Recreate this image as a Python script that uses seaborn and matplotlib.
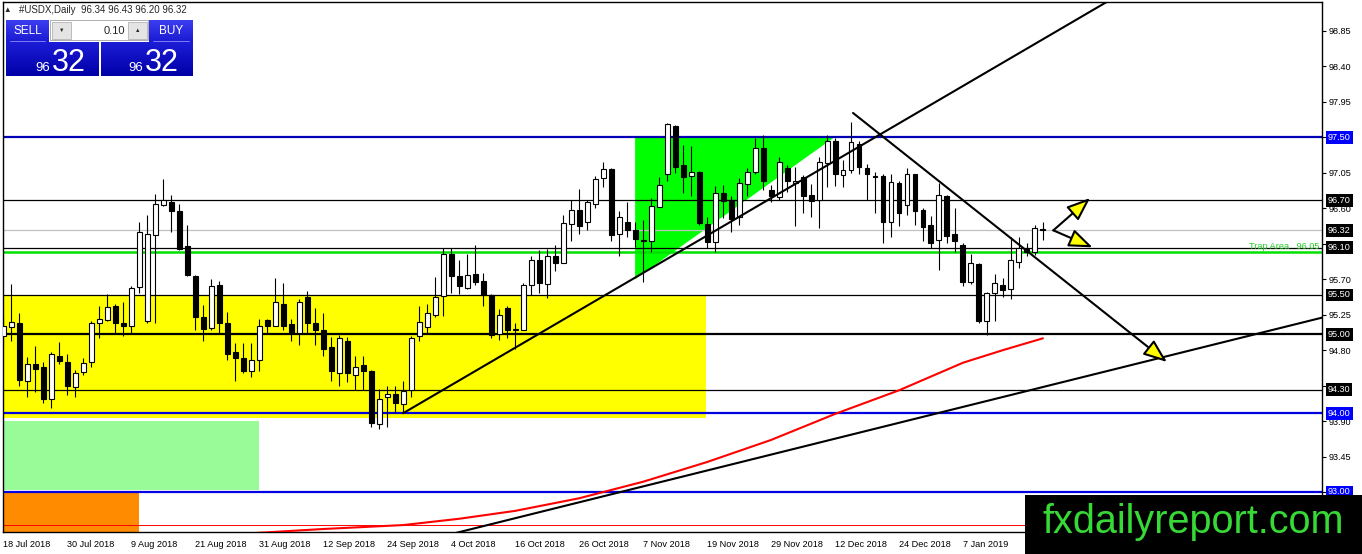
import numpy as np
import pandas as pd
import matplotlib
matplotlib.use("Agg")
import matplotlib.pyplot as plt
import matplotlib.transforms as mtransforms
from matplotlib.patches import Rectangle, Polygon
import seaborn as sns

# ---- daily candles, #USDX ----
opens = [94.98, 95.09, 95.15, 94.41, 94.62, 94.58, 94.18, 94.73, 94.65, 94.33,
         94.52, 94.65, 95.15, 95.18, 95.36, 95.15, 95.10, 95.60, 95.17, 96.26,
         96.64, 96.68, 96.57, 96.12, 95.74, 95.22, 95.08, 95.63, 95.14, 94.77,
         94.70, 94.54, 94.68, 95.18, 95.10, 95.39, 95.13, 95.02, 95.48, 95.14,
         95.06, 94.84, 94.51, 94.91, 94.48, 94.61, 94.53, 93.86, 94.20, 94.24,
         94.12, 94.29, 94.98, 95.09, 95.25, 95.49, 96.02, 95.74, 95.59, 95.77,
         95.68, 95.50, 95.01, 95.33, 95.05, 95.06, 95.63, 95.95, 95.64, 96.00,
         95.91, 96.40, 96.58, 96.42, 96.66, 96.98, 97.10, 96.28, 96.42, 96.32,
         96.19, 96.19, 96.62, 97.03, 97.65, 97.15, 97.01, 97.06, 96.40, 96.17,
         96.79, 96.71, 96.49, 96.91, 97.06, 97.37, 96.83, 96.74, 97.11, 96.92,
         97.00, 96.77, 96.70, 97.18, 97.46, 97.02, 97.08, 97.42, 97.11, 97.01,
         97.01, 96.42, 96.92, 96.64, 97.03, 96.58, 96.39, 96.20, 96.76, 96.27,
         96.14, 95.67, 95.89, 95.17, 95.53, 95.63, 95.57, 95.92, 96.08, 96.05,
         96.34]
highs = [95.21, 95.64, 95.27, 94.71, 94.85, 94.65, 94.78, 94.90, 94.75, 94.55,
         94.70, 95.17, 95.36, 95.51, 95.38, 95.41, 95.61, 96.43, 96.52, 96.78,
         96.97, 96.77, 96.65, 96.39, 95.75, 95.37, 95.70, 95.68, 95.29, 94.89,
         94.89, 94.89, 95.20, 95.20, 95.72, 95.65, 95.19, 95.45, 95.55, 95.34,
         95.27, 94.97, 94.99, 94.97, 94.72, 94.73, 94.55, 94.31, 94.35, 94.35,
         94.41, 94.98, 95.36, 95.39, 95.73, 96.10, 96.10, 95.94, 96.02, 96.14,
         95.78, 95.51, 95.32, 95.36, 95.15, 95.65, 95.99, 96.07, 96.08, 96.13,
         96.52, 96.71, 96.85, 96.71, 97.01, 97.19, 97.11, 96.56, 96.68, 96.43,
         96.45, 96.73, 97.00, 97.68, 97.66, 97.40, 97.39, 97.07, 96.49, 96.88,
         96.90, 96.76, 96.98, 97.11, 97.49, 97.53, 96.90, 97.25, 97.15, 97.13,
         97.02, 96.91, 97.25, 97.53, 97.49, 97.21, 97.70, 97.45, 97.16, 97.06,
         97.04, 97.04, 96.95, 97.11, 97.04, 96.60, 96.50, 96.92, 96.77, 96.60,
         96.16, 96.02, 95.90, 95.54, 95.76, 95.72, 96.24, 96.24, 96.16, 96.39,
         96.43]
lows = [94.87, 94.91, 94.34, 94.20, 94.27, 94.13, 94.06, 94.62, 94.23, 94.20,
        94.48, 94.59, 94.96, 95.17, 95.00, 94.98, 95.00, 95.52, 95.15, 95.15,
        96.63, 96.30, 96.07, 95.74, 95.06, 94.91, 95.06, 95.00, 94.68, 94.41,
        94.51, 94.46, 94.53, 95.01, 95.10, 95.06, 94.91, 94.86, 95.01, 94.86,
        94.72, 94.41, 94.35, 94.40, 94.29, 94.29, 93.82, 93.80, 93.83, 94.00,
        94.00, 94.20, 94.91, 95.00, 95.22, 95.23, 95.52, 95.51, 95.57, 95.63,
        95.36, 94.96, 94.93, 94.95, 94.82, 95.05, 95.50, 95.53, 95.46, 95.80,
        95.90, 96.19, 96.28, 96.33, 96.61, 96.87, 96.19, 95.99, 96.24, 96.11,
        95.67, 96.05, 96.62, 96.95, 97.05, 96.80, 96.75, 96.39, 96.10, 96.04,
        96.48, 96.30, 96.39, 96.75, 97.04, 96.83, 96.68, 96.71, 96.81, 96.37,
        96.54, 96.49, 96.35, 96.87, 96.88, 96.87, 97.05, 97.04, 96.70, 96.54,
        96.16, 96.24, 96.37, 96.52, 96.39, 96.18, 96.10, 95.82, 96.16, 96.05,
        95.62, 95.64, 95.14, 94.99, 95.17, 95.47, 95.45, 95.84, 95.99, 96.01,
        96.20]
closes = [95.10, 95.16, 94.42, 94.62, 94.56, 94.18, 94.75, 94.66, 94.34, 94.51,
          94.64, 95.15, 95.19, 95.35, 95.15, 95.10, 95.59, 96.30, 96.27, 96.65,
          96.70, 96.57, 96.08, 95.75, 95.22, 95.07, 95.61, 95.15, 94.75, 94.70,
          94.53, 94.67, 95.10, 95.11, 95.41, 95.11, 95.02, 95.41, 95.15, 95.05,
          94.82, 94.53, 94.96, 94.51, 94.59, 94.53, 93.87, 94.18, 94.24, 94.13,
          94.28, 94.96, 95.16, 95.27, 95.47, 96.02, 95.74, 95.61, 95.75, 95.67,
          95.50, 94.99, 95.24, 95.06, 95.06, 95.63, 95.95, 95.65, 96.00, 95.91,
          96.41, 96.58, 96.38, 96.68, 96.97, 97.10, 96.26, 96.49, 96.33, 96.21,
          96.18, 96.63, 96.89, 97.67, 97.13, 97.00, 97.06, 96.41, 96.17, 96.80,
          96.69, 96.47, 96.92, 97.06, 97.36, 96.95, 96.75, 97.19, 96.95, 96.95,
          96.75, 96.69, 97.19, 97.45, 97.03, 97.09, 97.44, 97.12, 97.03, 97.00,
          96.43, 96.93, 96.54, 97.04, 96.56, 96.36, 96.16, 96.77, 96.25, 96.18,
          95.67, 95.90, 95.17, 95.52, 95.65, 95.56, 95.94, 96.09, 96.05, 96.35,
          96.32]

date_bars = [0, 8, 16, 24, 32, 40, 48, 56, 64, 72, 80, 88, 96, 104, 112, 120]
date_labels = ["18 Jul 2018", "30 Jul 2018", "9 Aug 2018", "21 Aug 2018",
               "31 Aug 2018", "12 Sep 2018", "24 Sep 2018", "4 Oct 2018",
               "16 Oct 2018", "26 Oct 2018", "7 Nov 2018", "19 Nov 2018",
               "29 Nov 2018", "12 Dec 2018", "24 Dec 2018", "7 Jan 2019"]

# red moving average, sampled along the chart
ma_bars = [30, 40, 50, 57, 64, 72, 80, 88, 96, 104, 112, 120, 125, 130]
ma_values = [92.47, 92.53, 92.58, 92.66, 92.76, 92.92, 93.13, 93.38, 93.66,
             93.99, 94.29, 94.64, 94.80, 94.95]

# horizontal levels with their price-box colours
level_prices = [97.50, 96.70, 96.32, 96.10, 95.50, 95.00, 94.30, 94.00, 93.00]
level_boxes = ["#0000ff", "black", "black", "black", "black", "black", "black",
               "#0000ff", "#0000ff"]

# trend lines (bar index, price)
up_line_bars, up_line_prices = [50, 138], [94.00, 99.22]
low_line_bars, low_line_prices = [55, 166], [92.44, 95.24]
down_line_bars, down_line_prices = [106.25, 145.5], [97.81, 94.65]
arrow_origin = (131.3, 96.32)
arrow_tips = [(135.9, 96.73), (136.2, 96.105)]

df = pd.DataFrame({"open": opens, "high": highs, "low": lows, "close": closes})
df["bar"] = np.arange(len(df))
df["up"] = df["close"] >= df["open"]

sns.set_style("white")
plt.rcParams["font.family"] = ["Liberation Sans", "DejaVu Sans"]

W, H = 1362, 554
fig = plt.figure(figsize=(W / 100, H / 100), dpi=100)
fig.patch.set_facecolor("white")
ax = fig.add_axes([3 / W, 1 - 532 / H, (1322 - 3) / W, (532 - 2) / H])
ax.set_xlim(-0.05, 164.9)
ax.set_ylim(92.492, 99.218)

# background objects
x0 = -0.05
ax.add_patch(Rectangle((x0, 93.94), 87.9 - x0, 95.50 - 93.94, fc="yellow", ec="none", zorder=1))
ax.add_patch(Rectangle((x0, 93.03), 32 - x0, 93.90 - 93.03, fc="#98fb98", ec="none", zorder=1))
ax.add_patch(Rectangle((x0, 92.40), 17 - x0, 93.00 - 92.40, fc="#ff8c00", ec="none", zorder=1))
ax.add_patch(Polygon([(79, 97.50), (79, 95.70), (103.9, 97.50)], closed=True,
                     fc="#00ff00", ec="none", zorder=1))

# horizontal lines
ax.axhline(97.50, color="#0000b4", lw=1.6, zorder=2)
ax.axhline(96.70, color="black", lw=0.9, zorder=2)
ax.axhline(96.32, color="#c0c0c0", lw=0.9, zorder=2)
ax.axhline(96.10, color="black", lw=0.9, zorder=2)
ax.axhline(96.05, color="#00e000", lw=1.8, zorder=2)
ax.axhline(95.50, color="black", lw=0.9, zorder=2)
ax.axhline(95.00, color="black", lw=1.6, zorder=2)
ax.axhline(94.30, color="black", lw=0.9, zorder=2)
ax.axhline(94.00, color="#0000e0", lw=1.6, zorder=2)
ax.axhline(93.00, color="#0000e0", lw=1.6, zorder=2)
ax.axhline(92.58, color="red", lw=0.7, zorder=2)
ax.text(164.6, 96.11, "Trap Area   96.05", color="#22cc22", fontsize=6.6,
        ha="right", va="center", zorder=2)

# candles
ax.vlines(df["bar"], df["low"], df["high"], color="black", lw=0.8, zorder=3)
body_low = df[["open", "close"]].min(axis=1)
body_h = (df["close"] - df["open"]).abs().clip(lower=0.012)
ax.bar(df["bar"], body_h, bottom=body_low, width=0.62,
       color=np.where(df["up"], "white", "black"), edgecolor="black",
       linewidth=0.8, zorder=4)

# moving average
sns.lineplot(x=ma_bars, y=ma_values, color="red", lw=1.5, ax=ax, zorder=5)

# trend lines and arrows
ax.plot(up_line_bars, up_line_prices, color="black", lw=1.5, zorder=6)
ax.plot(low_line_bars, low_line_prices, color="black", lw=1.5, zorder=6)
head = dict(arrowstyle="-|>,head_length=0.9,head_width=0.35", mutation_scale=16,
            fc="yellow", ec="black", lw=1.5, shrinkA=0, shrinkB=0)
ax.annotate("", xy=(down_line_bars[1], down_line_prices[1]),
            xytext=(down_line_bars[0], down_line_prices[0]), arrowprops=head, zorder=6)
for tip in arrow_tips:
    ax.annotate("", xy=tip, xytext=arrow_origin, arrowprops=head, zorder=6)

# axes look
for s in ax.spines.values():
    s.set_color("black")
    s.set_linewidth(1)
ax.yaxis.tick_right()
yt = np.round(np.arange(93.00, 98.86, 0.45), 2)
covered = [97.50, 96.15, 94.35, 93.00]  # hidden behind the price boxes
ax.set_yticks(yt)
ax.set_yticklabels(["" if v in covered else f"{v:.2f}" for v in yt])
ax.set_xticks(date_bars)
ax.set_xticklabels(date_labels, ha="left")
ax.tick_params(axis="y", direction="out", length=3, pad=2, labelsize=6.6, colors="black")
ax.tick_params(axis="x", direction="out", length=3, pad=3, labelsize=6.6, colors="black")
ax.grid(False)
ax.set_xlabel("")
ax.set_ylabel("")

# price boxes on the right axis
tr = mtransforms.blended_transform_factory(ax.transAxes, ax.transData)
for p, c in zip(level_prices, level_boxes):
    ax.text(1.0045, p, f"{p:.2f}", transform=tr, ha="left", va="center",
            fontsize=6.6, color="white", clip_on=False, zorder=10,
            bbox=dict(boxstyle="square,pad=0.2", fc=c, ec="none"))

# overlay in pixel coordinates: header, trade panel, watermark
ov = fig.add_axes([0, 0, 1, 1], zorder=10)
ov.set_xlim(0, W)
ov.set_ylim(H, 0)
ov.axis("off")
ov.patch.set_alpha(0)

ov.text(7.5, 10, "▲", fontsize=5.5, ha="center", va="center")
ov.text(19, 10, "#USDX,Daily  96.34 96.43 96.20 96.32", fontsize=7, ha="left", va="center")

grad = np.linspace(0, 1, 40).reshape(-1, 1)
top_cmap = matplotlib.colors.LinearSegmentedColormap.from_list("t", ["#3c3cf0", "#1a1ad2"])
low_cmap = matplotlib.colors.LinearSegmentedColormap.from_list("l", ["#1c1cd6", "#0000a8"])
for (bx0, bx1) in [(6, 49), (149, 193)]:
    ov.imshow(grad, cmap=top_cmap, extent=[bx0, bx1, 42, 20], aspect="auto", zorder=1)
    ov.plot([bx0 + 4, bx1 - 4], [41, 41], color="#8c8cff", lw=0.6, zorder=2)
for (bx0, bx1) in [(6, 99), (101, 193)]:
    ov.imshow(grad, cmap=low_cmap, extent=[bx0, bx1, 76, 42], aspect="auto", zorder=1)
ov.text(27.5, 31, "SELL", color="white", fontsize=8.5, ha="center", va="center", zorder=3)
ov.text(171, 31, "BUY", color="white", fontsize=8.5, ha="center", va="center", zorder=3)

ov.add_patch(Rectangle((50, 20), 98, 20, fc="white", ec="#a0a0a0", lw=0.6, zorder=2))
ov.add_patch(Rectangle((52, 21.5), 19, 17, fc="#e4e4e4", ec="#b4b4b4", lw=0.6, zorder=3))
ov.add_patch(Rectangle((128, 21.5), 19, 17, fc="#e4e4e4", ec="#b4b4b4", lw=0.6, zorder=3))
ov.text(61.5, 30.5, "▼", fontsize=4, ha="center", va="center", zorder=4)
ov.text(137.5, 30, "▲", fontsize=4, ha="center", va="center", zorder=4)
ov.text(125, 30.5, "0.10", fontsize=8, ha="right", va="center", zorder=4)

ov.text(43, 71, "96", color="white", fontsize=9.5, ha="center", va="baseline", zorder=3)
ov.text(52, 71, "32", color="white", fontsize=22, ha="left", va="baseline", zorder=3)
ov.text(135.5, 71, "96", color="white", fontsize=9.5, ha="center", va="baseline", zorder=3)
ov.text(145, 71, "32", color="white", fontsize=22, ha="left", va="baseline", zorder=3)

ov.add_patch(Rectangle((1025, 495), W - 1025, H - 495, fc="black", ec="none", zorder=5))
ov.text(1193, 522, "fxdailyreport.com", color="#36d936", fontsize=28.5,
        ha="center", va="center", zorder=6)

fig.savefig("out.png", dpi=100)
